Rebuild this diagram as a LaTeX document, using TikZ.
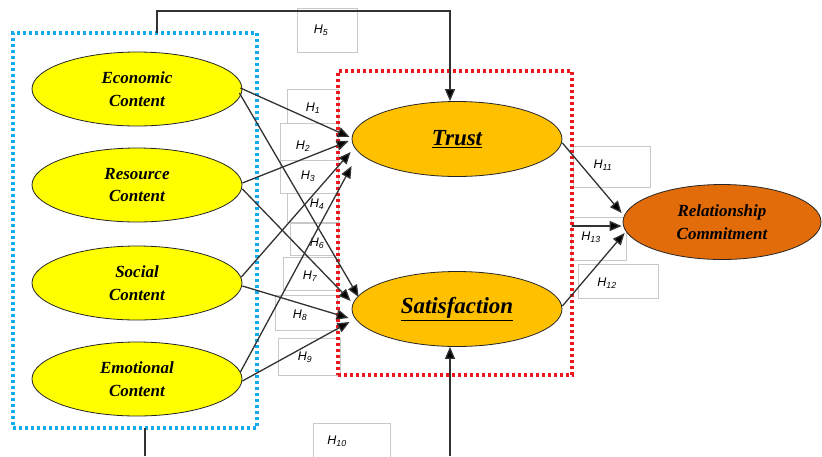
\documentclass[tikz,border=0pt]{standalone}
\usepackage{fontspec}
\setmainfont{Liberation Serif}
\setsansfont{Liberation Sans}
\usetikzlibrary{arrows.meta,calc,shapes.geometric}
\definecolor{ylw}{RGB}{255,255,0}
\definecolor{gold}{RGB}{255,192,0}
\definecolor{rcor}{RGB}{227,108,10}
\definecolor{bluedot}{RGB}{20,170,235}
\definecolor{reddot}{RGB}{235,25,30}
\definecolor{lncol}{RGB}{50,50,50}
\definecolor{boxgray}{RGB}{200,200,200}
\begin{document}
\begin{tikzpicture}[x=1pt,y=-1pt,
  ell/.style={ellipse,draw=black!85,line width=0.8pt,inner sep=0pt,align=center,
    font=\fontsize{17}{22.5}\selectfont\bfseries\itshape},
  content/.style={ell,fill=ylw,minimum width=210pt,minimum height=74pt},
  mid/.style={ell,fill=gold,minimum width=210pt,minimum height=75pt,
    font=\fontsize{23}{26}\selectfont\bfseries\itshape},
  dotframe/.style={rectangle,line width=3.4pt,dash pattern=on 3pt off 3pt,inner sep=0pt,outer sep=0pt},
  arr/.style={draw=lncol,line width=1.3pt,-{Triangle[length=12pt,width=10pt,fill=black]}},
  plain/.style={draw=lncol,line width=1.3pt},
  hbox/.style={draw=boxgray,line width=0.6pt,fill=white},
  hlab/.style={inner sep=0pt,font=\sffamily\itshape\fontsize{12.5}{13}\selectfont}
]
\useasboundingbox (0,0) rectangle (822,456);
\fill[white] (0,0) rectangle (822,456);

% label boxes
\draw[hbox] (297,8) rectangle (357,52);
\draw[hbox] (287,89) rectangle (338,123);
\draw[hbox] (280,123) rectangle (338,160);
\draw[hbox] (280,160) rectangle (338,193);
\draw[hbox] (287,193) rectangle (338,222);
\draw[hbox] (290,223) rectangle (338,255);
\draw[hbox] (283,257) rectangle (338,290);
\draw[hbox] (275,295) rectangle (337,330);
\draw[hbox] (278,338) rectangle (340,375);
\draw[hbox] (313,423) rectangle (390,460);
\draw[hbox] (573,146) rectangle (650,187);
\draw[hbox] (571,217) rectangle (626,260);
\draw[hbox] (578,264) rectangle (658,298);

% labels
\node[hlab] (l1) at (313,108) {H\textsubscript{1}};
\node[hlab] (l2) at (303,146) {H\textsubscript{2}};
\node[hlab] (l3) at (308,176) {H\textsubscript{3}};
\node[hlab] (l4) at (317,204) {H\textsubscript{4}};
\node[hlab] (l5) at (321,30) {H\textsubscript{5}};
\node[hlab] (l6) at (317,243) {H\textsubscript{6}};
\node[hlab] (l7) at (310,276) {H\textsubscript{7}};
\node[hlab] (l8) at (300,315) {H\textsubscript{8}};
\node[hlab] (l9) at (305,357) {H\textsubscript{9}};
\node[hlab] (l10) at (337,441) {H\textsubscript{10}};
\node[hlab] (l11) at (603,165) {H\textsubscript{11}};
\node[hlab] (l12) at (607,283) {H\textsubscript{12}};
\node[hlab] (l13) at (591,237) {H\textsubscript{13}};

% frames
\node[dotframe,draw=bluedot,minimum width=244pt,minimum height=395pt] (bluebox) at (135,230.5) {};
\node[dotframe,draw=reddot,minimum width=234pt,minimum height=304pt] (redbox) at (455,223) {};

% ellipses
\node[content] (eco) at (137,89) {Economic\\Content};
\node[content] (res) at (137,185) {Resource\\Content};
\node[content] (soc) at (137,283) {Social\\Content};
\node[content] (emo) at (137,379) {Emotional\\Content};
\node[mid] (trust) at (457,139) {\underline{Trust}};
\node[mid] (sat) at (457,309) {\underline{Satisfaction}};
\node[ell,fill=rcor,minimum width=198pt,minimum height=75pt] (rc) at (722,222) {Relationship\\Commitment};

% content -> trust
\draw[arr] ($(eco.east)+(-2,-1)$) -- ($(trust.west)+(-2,-2)$);
\draw[arr] ($(res.east)+(0,-2)$) -- ($(trust.west)+(-3,2)$);
\draw[arr] ($(soc.east)+(-1,-6)$) -- ($(trust.west)+(-1,13)$);
\draw[arr] ($(emo.east)+(-2,-7)$) -- ($(trust.west)+(0,27)$);
% content -> satisfaction
\draw[arr] ($(eco.east)+(-3,4)$) -- ($(sat.west)+(7,-12)$);
\draw[arr] ($(res.east)+(0,4)$) -- ($(sat.west)+(-1,-8)$);
\draw[arr] ($(soc.east)+(0,3)$) -- ($(sat.west)+(-3,9)$);
\draw[arr] ($(emo.east)+(0,2)$) -- ($(sat.west)+(-2,13)$);

% top connector (H5)
\coordinate (bluetop) at ($(bluebox.north)+(22,0)$);
\coordinate (turn) at (450,11);
\draw[arr] (bluetop) |- (turn) -- ($(trust.north)+(-7,0)$);

% bottom connector (H10)
\coordinate (bluebot) at ($(bluebox.south)+(10,0)$);
\coordinate (botend) at (145,456);
\draw[plain] (bluebot) -- (botend);
\coordinate (satfrom) at (450,456);
\draw[arr] (satfrom) -- ($(sat.south)+(-7,0)$);

% to relationship commitment
\draw[arr] ($(trust.east)+(0,4)$) -- ($(rc.west)+(-1,-9)$);
\coordinate (redright) at ($(redbox.east)+(0,3)$);
\draw[arr] (redright) -- ($(rc.west)+(-1,4)$);
\draw[arr] ($(sat.east)+(0,-3)$) -- ($(rc.west)+(2,11)$);
\end{tikzpicture}
\end{document}
